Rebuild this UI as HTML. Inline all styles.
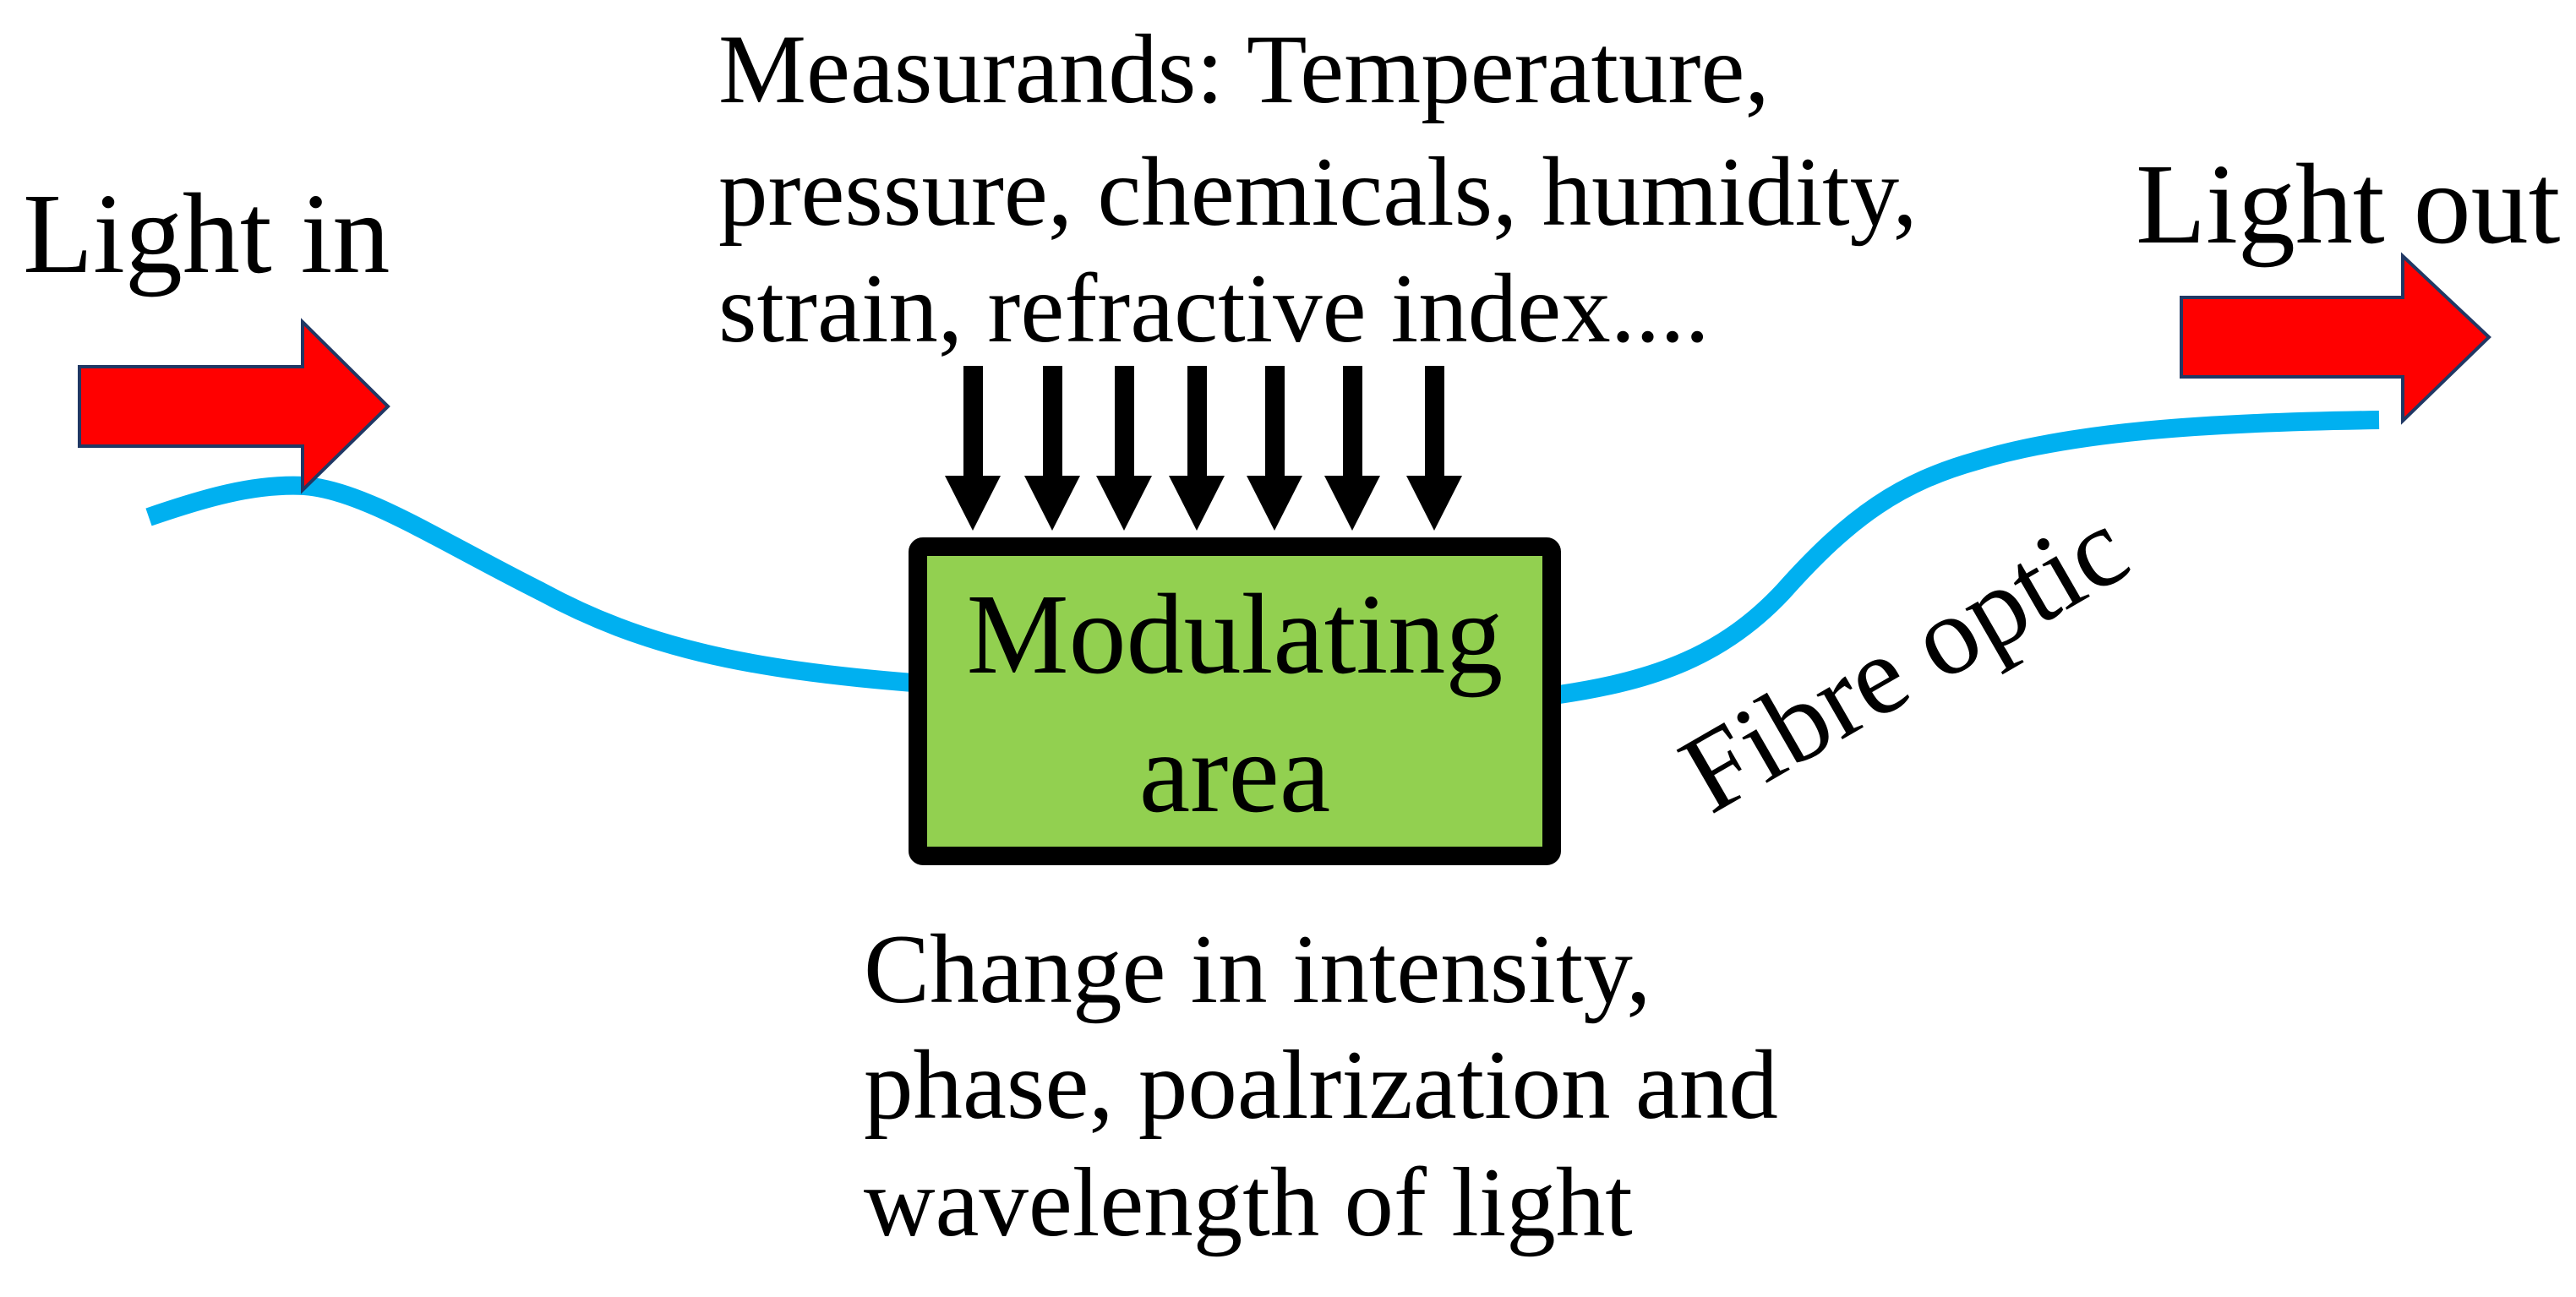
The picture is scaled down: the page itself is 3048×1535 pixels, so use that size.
<!DOCTYPE html>
<html><head><meta charset="utf-8"><style>
html,body{margin:0;padding:0;background:#fff;}
svg{display:block;}
text{font-family:"Liberation Serif",serif;fill:#000;}
</style></head><body>
<svg width="3048" height="1535" viewBox="0 0 3048 1535" xmlns="http://www.w3.org/2000/svg">
<!-- fibre -->
<path d="M176,612 C240,590 300,572 360,575 C430,580 520,640 640,700 C760,765 880,792 1080,808" fill="none" stroke="#00B0F0" stroke-width="22"/>
<path d="M1845,822 C1960,805 2040,775 2110,700 C2190,610 2250,570 2340,545 C2450,512 2600,500 2815,497" fill="none" stroke="#00B0F0" stroke-width="22"/>
<!-- red arrows -->
<polygon points="94,434 358,434 358,381 459,481 358,580 358,528 94,528" fill="#FF0000" stroke="#203864" stroke-width="4"/>
<polygon points="2581,352 2843,352 2843,303 2945,399 2843,498 2843,446 2581,446" fill="#FF0000" stroke="#203864" stroke-width="4"/>
<!-- box -->
<rect x="1086" y="647" width="750" height="366" rx="6" fill="#92D050" stroke="#000" stroke-width="22"/>
<!-- down arrows -->
<g fill="#000">
<g><rect x="1140" y="433" width="23" height="132"/><polygon points="1118,563 1184,563 1151,628"/></g>
<g transform="translate(94,0)"><rect x="1140" y="433" width="23" height="132"/><polygon points="1118,563 1184,563 1151,628"/></g>
<g transform="translate(179,0)"><rect x="1140" y="433" width="23" height="132"/><polygon points="1118,563 1184,563 1151,628"/></g>
<g transform="translate(265,0)"><rect x="1140" y="433" width="23" height="132"/><polygon points="1118,563 1184,563 1151,628"/></g>
<g transform="translate(357,0)"><rect x="1140" y="433" width="23" height="132"/><polygon points="1118,563 1184,563 1151,628"/></g>
<g transform="translate(449,0)"><rect x="1140" y="433" width="23" height="132"/><polygon points="1118,563 1184,563 1151,628"/></g>
<g transform="translate(546,0)"><rect x="1140" y="433" width="23" height="132"/><polygon points="1118,563 1184,563 1151,628"/></g>
</g>
<!-- texts -->
<text x="27" y="322" font-size="136">Light in</text>
<text x="2527" y="287" font-size="136">Light out</text>
<text x="850" y="121" font-size="117">Measurands: Temperature,</text>
<text x="850" y="266" font-size="117">pressure, chemicals, humidity,</text>
<text x="850" y="404" font-size="117">strain, refractive index....</text>
<text x="1461" y="796" font-size="136" text-anchor="middle">Modulating</text>
<text x="1461" y="960" font-size="136" text-anchor="middle">area</text>
<text x="1022" y="1186" font-size="117">Change in intensity,</text>
<text x="1022" y="1323" font-size="117">phase, poalrization and</text>
<text x="1022" y="1462" font-size="117">wavelength of light</text>
<text x="0" y="0" font-size="133" text-anchor="middle" transform="translate(2275,820) rotate(-30)">Fibre optic</text>
</svg>
</body></html>
